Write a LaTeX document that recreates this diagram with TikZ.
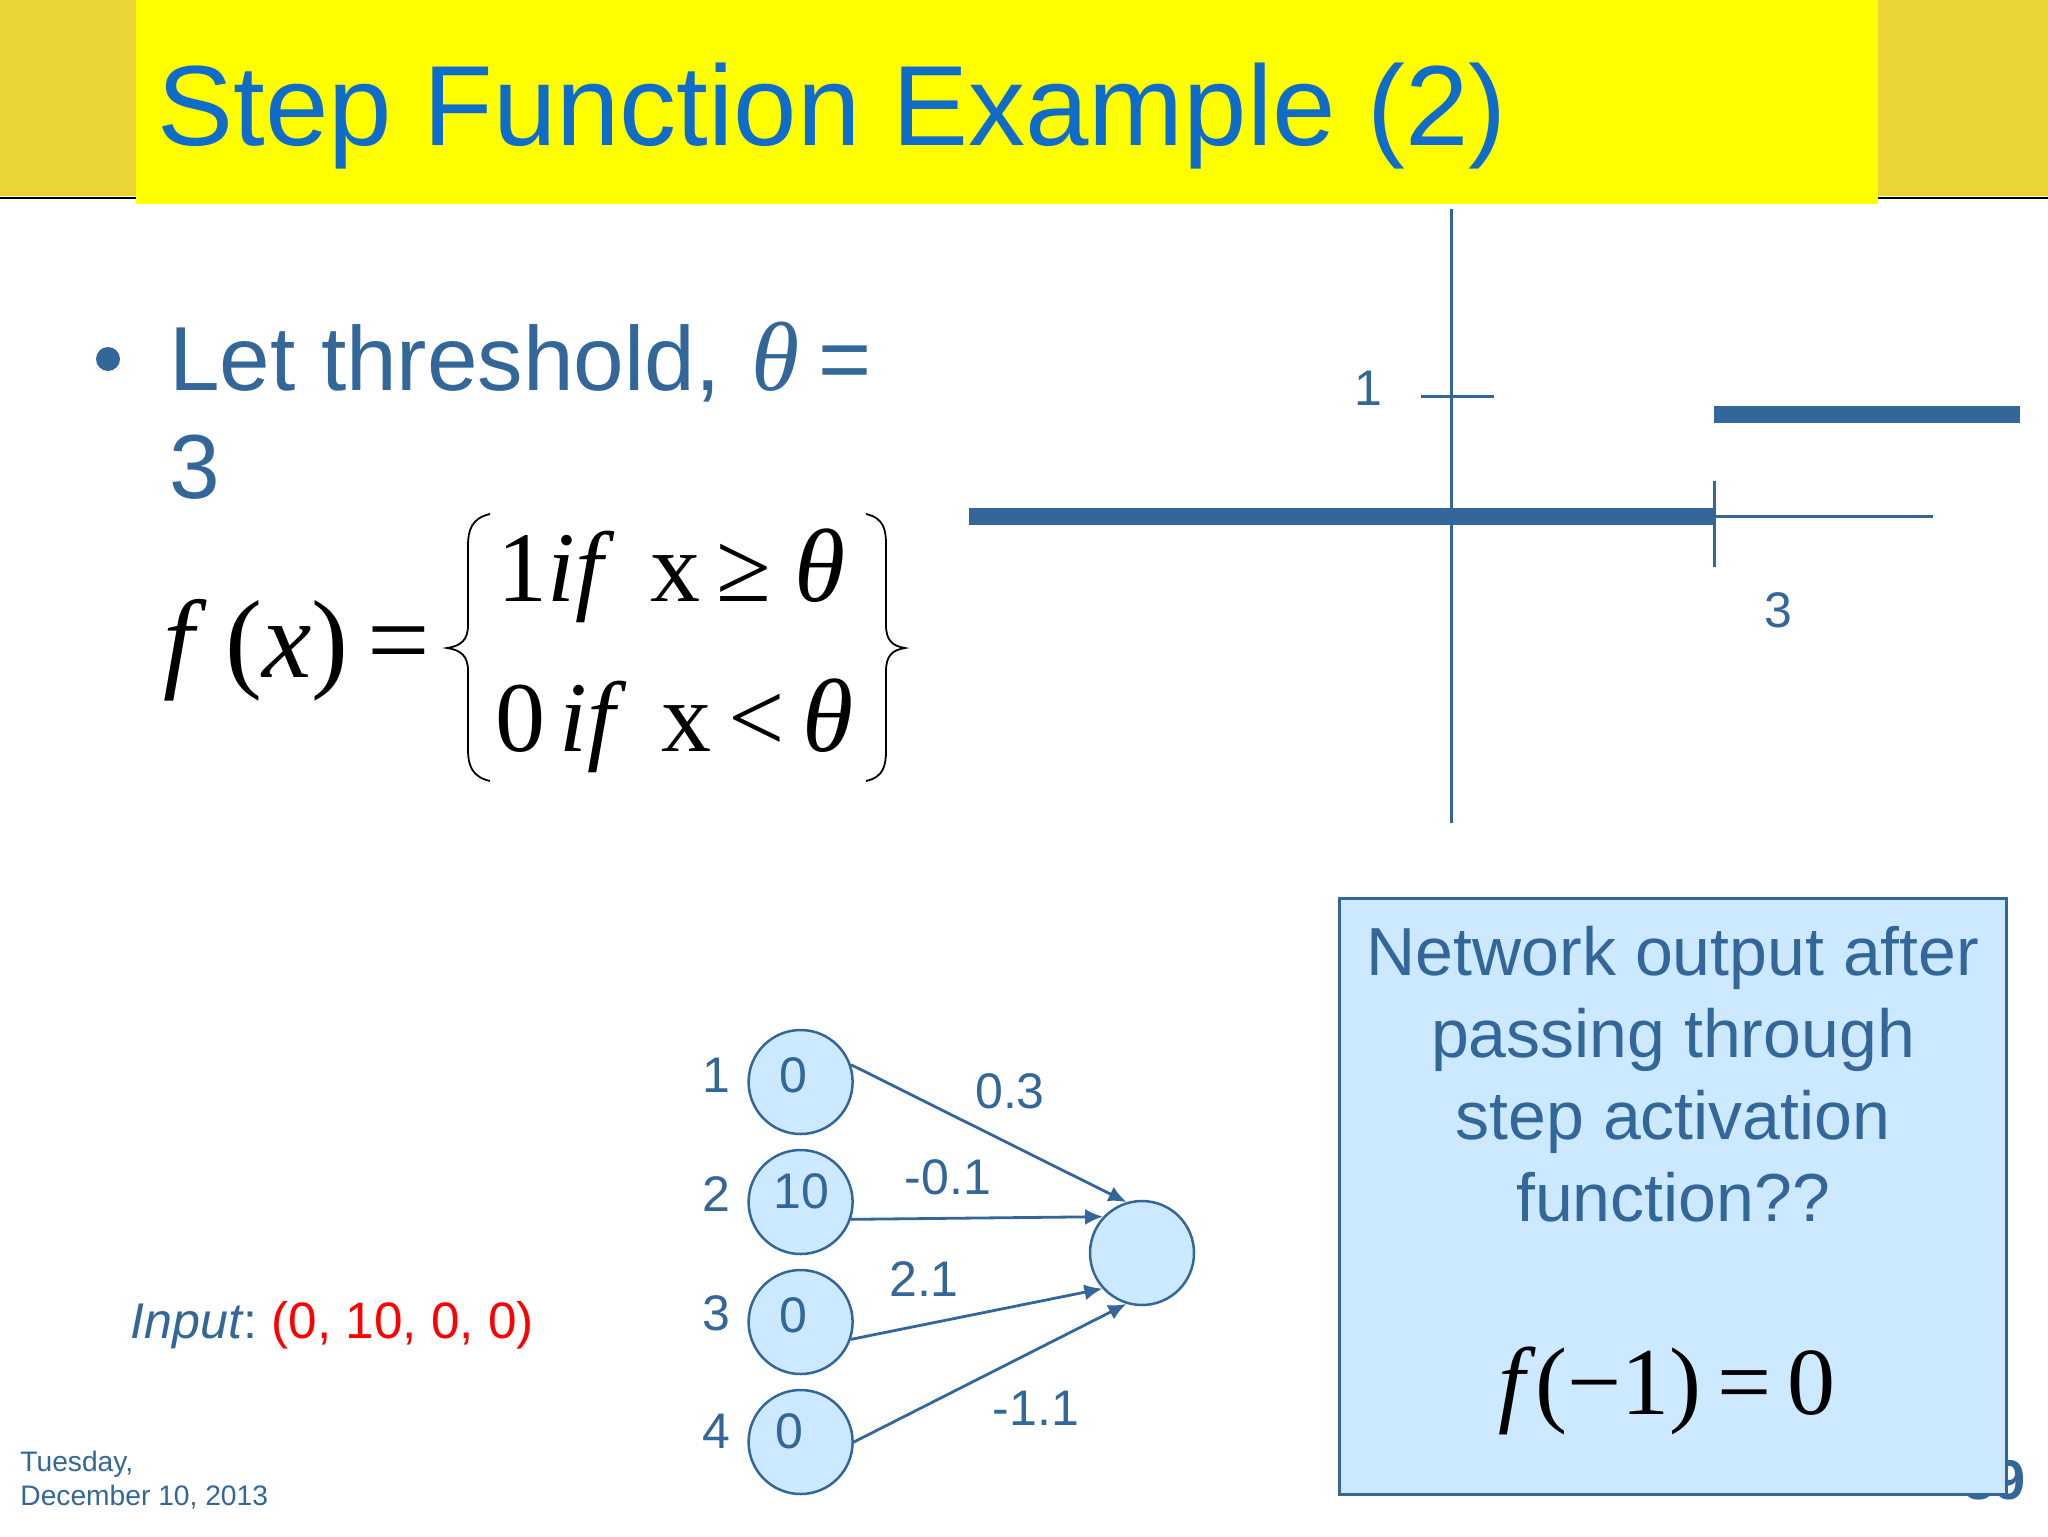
\documentclass[tikz,border=0pt]{standalone}
\usepackage{fontspec}
\setmainfont{Liberation Sans}
\newfontfamily\timesfont{Liberation Serif}
\usetikzlibrary{arrows.meta,shapes}
\definecolor{slideblue}{HTML}{336699}
\definecolor{titleblue}{HTML}{0F6CC8}
\definecolor{boxblue}{HTML}{CCE9FF}
\definecolor{bandgold}{HTML}{EBD435}
\definecolor{puregold}{HTML}{FFFF00}
\tikzstyle{neuron} = [circle, draw=slideblue, fill=boxblue, line width=1.25pt, minimum size=52pt, inner sep=0pt]
\tikzstyle{netlabel} = [text=slideblue, inner sep=0pt, font=\fontsize{25}{25}\selectfont]
\tikzstyle{line} = [draw, color=slideblue, line width=1.4pt, -{Latex[length=9pt,width=8pt]}]
\tikzstyle{axis} = [draw, color=slideblue, line width=1.5pt]
\tikzstyle{stepline} = [draw, color=slideblue, line width=8.5pt]
\tikzstyle{brace} = [draw, color=black, line width=0.9pt]
\tikzstyle{formula} = [anchor=base west, inner sep=0pt, font=\timesfont\fontsize{50}{50}\selectfont]
\newcommand{\bigtheta}{{\fontsize{52}{52}\selectfont\textit{θ}}}
\begin{document}
\begin{tikzpicture}[x=0.5pt, y=-0.5pt]
  \useasboundingbox (0,0) rectangle (2048,1536);
  \fill [white] (0,0) rectangle (2048,1536);

    % Header
    \fill [bandgold] (0,0) rectangle (2048,196);
    \draw [black, line width=1.2pt] (0,198) -- (2048,198);
    \fill [puregold] (136,0) rectangle (1878,204);
    \node [anchor=base west, inner sep=0pt, text=titleblue, font=\fontsize{57}{57}\selectfont] (title) at (157,145) {Step Function Example (2)};

    % Bullet and formula
    \fill [slideblue] (108,359) circle (6pt);
    \node [anchor=base west, inner sep=0pt, text=slideblue, font=\fontsize{45.5}{45.5}\selectfont] (letTheta) at (169,390) {Let threshold,\hspace{15.5pt}{\timesfont\itshape\fontsize{49}{49}\selectfont θ}\hspace{9.5pt}=};
    \node [anchor=base west, inner sep=0pt, text=slideblue, font=\fontsize{45.5}{45.5}\selectfont] (letThree) at (169,498) {3};
    \node [formula, font=\timesfont\fontsize{55.5}{55.5}\selectfont] (fx) at (163,677) {\textit{f}\,(\textit{x})\,=};
    \node [formula] (rowOne) at (497,601) {1\textit{if}\hspace{17.8pt}x\,≥\hspace{11.5pt}\bigtheta};
    \node [formula] (rowTwo) at (495,751) {0\hspace{7pt}\textit{if}\hspace{17.5pt}x\,<\hspace{9pt}\bigtheta};
    \path [brace] (490,514) .. controls (472,518) and (468,530) .. (468,545) -- (468,625) .. controls (468,640) and (461,646) .. (447,648) .. controls (461,650) and (468,656) .. (468,671) -- (468,750) .. controls (468,765) and (472,777) .. (490,781);
    \path [brace] (866,514) .. controls (884,518) and (886,530) .. (886,545) -- (886,625) .. controls (886,640) and (892,646) .. (905,648) .. controls (892,650) and (886,656) .. (886,671) -- (886,750) .. controls (886,765) and (884,777) .. (866,781);

    % Step plot
    \coordinate (yTop) at (1451,209);
    \coordinate (yBottom) at (1451,823);
    \coordinate (tickLeft) at (1421,396);
    \coordinate (tickRight) at (1494,396);
    \coordinate (lowStart) at (969,516);
    \coordinate (stepPoint) at (1714,516);
    \coordinate (xEnd) at (1933,516);
    \coordinate (highStart) at (1714,414);
    \coordinate (highEnd) at (2020,414);
    \coordinate (markTop) at (1714,481);
    \coordinate (markBottom) at (1714,567);
    \path [axis] (yTop) -- (yBottom);
    \path [axis] (tickLeft) -- (tickRight);
    \path [axis] (stepPoint) -- (xEnd);
    \path [axis] (markTop) -- (markBottom);
    \path [stepline] (lowStart) -- (stepPoint);
    \path [stepline] (highStart) -- (highEnd);
    \node [netlabel] (tickOne) at (1368,388) {1};
    \node [netlabel] (tickThree) at (1778,610) {3};

    % Input
    \node [anchor=base west, inner sep=0pt, text=slideblue, font=\fontsize{25.1}{25.1}\selectfont] (input) at (130,1338) {\textit{Input}:\hspace{7pt}\textcolor{red}{\fontsize{25.6}{25.6}\selectfont (0, 10, 0, 0)}};

    % Place nodes
    \node [neuron] (inOne) at (800.6,1082) {};
    \node [neuron, below of=inOne, node distance=60pt] (inTwo) {};
    \node [neuron, below of=inTwo, node distance=60pt] (inThree) {};
    \node [neuron, below of=inThree, node distance=60pt] (inFour) {};
    \node [neuron] (output) at (1142,1253) {};

    \node [netlabel] (valOne) at (793,1075) {0};
    \node [netlabel] (valTwo) at (801,1191) {10};
    \node [netlabel] (valThree) at (793,1315) {0};
    \node [netlabel] (valFour) at (789,1431) {0};
    \node [netlabel] (numOne) at (716,1075) {1};
    \node [netlabel] (numTwo) at (716,1194) {2};
    \node [netlabel] (numThree) at (716,1313) {3};
    \node [netlabel] (numFour) at (716,1431) {4};

    \node [netlabel] (wOne) at (1010,1091) {0.3};
    \node [netlabel] (wTwo) at (948,1177) {-0.1};
    \node [netlabel] (wThree) at (924,1279) {2.1};
    \node [netlabel] (wFour) at (1036,1408) {-1.1};

    % Draw edges
    \path [line] (inOne.19) -- (output.107);
    \path [line] (inTwo.-19) -- (output.137);
    \path [line] (inThree.-19) -- (output.222);
    \path [line] (inFour.0) -- (output.253);

    % Page number and date
    \node [anchor=base east, inner sep=0pt, text=slideblue, font=\bfseries\fontsize{28}{28}\selectfont] (pageNum) at (2026,1499) {39};
    \node [anchor=base west, inner sep=0pt, align=left, text=slideblue, font=\fontsize{14.1}{17}\selectfont] (date) at (20,1505) {Tuesday,\\December 10, 2013};

    % Question box
    \node [rectangle, draw=slideblue, fill=boxblue, line width=1.25pt, minimum width=333.5pt, minimum height=298pt, anchor=north west, inner sep=0pt] (question) at (1338,897) {};
    \node [align=center, inner sep=0pt, text=slideblue, font=\fontsize{34}{41}\selectfont] (questionText) at (1673,1074) {Network output after\\passing through\\step activation\\function??};
    \node [anchor=base, inner sep=0pt, font=\timesfont\fontsize{48}{48}\selectfont] (answer) at (1667,1414) {\textit{f}(−1)\,=\,0};

\end{tikzpicture}
\end{document}
